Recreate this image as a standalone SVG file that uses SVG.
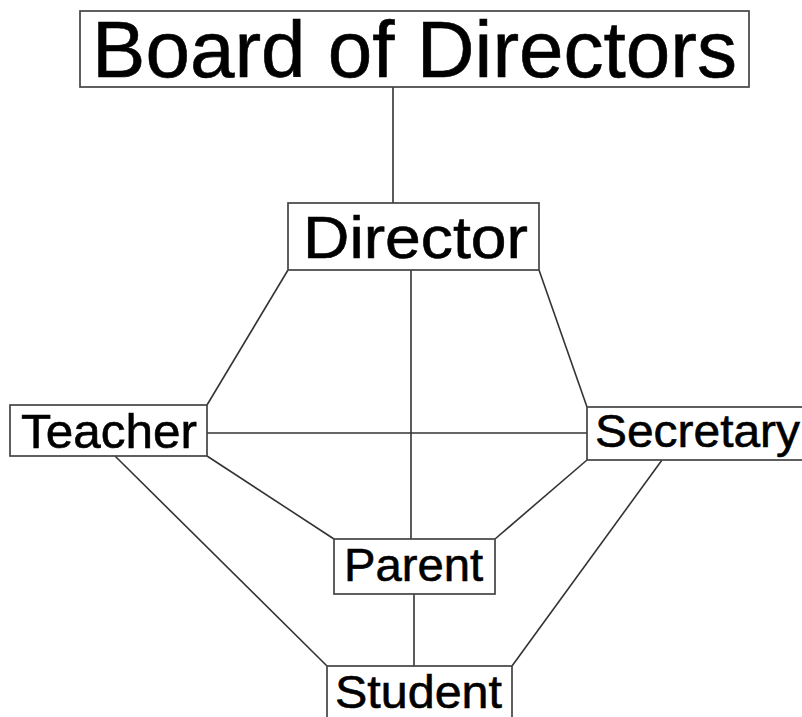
<svg xmlns="http://www.w3.org/2000/svg" width="802" height="717" viewBox="0 0 802 717">
<style>
.box{fill:#fff;stroke:#444;stroke-width:1.7}
.lbl{font-family:"Liberation Sans",Arial,sans-serif;fill:#000;stroke:#000;stroke-width:0.6}
.conn line{stroke:#333;stroke-width:1.6}
</style>
<rect width="802" height="717" fill="#fff"/>
<g class="conn" id="connectors">
<line x1="393" y1="87" x2="393" y2="203"/>
<line x1="288" y1="270" x2="207" y2="405"/>
<line x1="539" y1="270" x2="587" y2="407"/>
<line x1="411" y1="270" x2="411" y2="539"/>
<line x1="207" y1="433" x2="587" y2="433"/>
<line x1="207" y1="456" x2="334" y2="539"/>
<line x1="587" y1="460" x2="495" y2="539"/>
<line x1="115" y1="456" x2="327" y2="666"/>
<line x1="662" y1="460" x2="512" y2="666"/>
<line x1="414" y1="594" x2="414" y2="666"/>
</g>
<g id="board">
<rect class="box" x="80" y="11" width="669" height="76"/>
<text class="lbl" x="92" y="77" font-size="80" textLength="645" lengthAdjust="spacingAndGlyphs">Board of Directors</text>
</g>
<g id="director">
<rect class="box" x="288" y="203" width="251" height="67"/>
<text class="lbl" x="303" y="258" font-size="60" textLength="225" lengthAdjust="spacingAndGlyphs">Director</text>
</g>
<g id="teacher">
<rect class="box" x="10" y="405" width="197" height="51"/>
<text class="lbl" x="21" y="448" font-size="48" textLength="176" lengthAdjust="spacingAndGlyphs">Teacher</text>
</g>
<g id="secretary">
<rect class="box" x="587" y="407" width="220" height="53"/>
<text class="lbl" x="595" y="447" font-size="47" textLength="205" lengthAdjust="spacingAndGlyphs">Secretary</text>
</g>
<g id="parent">
<rect class="box" x="334" y="539" width="161" height="55"/>
<text class="lbl" x="344" y="581" font-size="47" textLength="139" lengthAdjust="spacingAndGlyphs">Parent</text>
</g>
<g id="student">
<rect class="box" x="327" y="666" width="185" height="60"/>
<text class="lbl" x="335" y="708" font-size="47" textLength="167" lengthAdjust="spacingAndGlyphs">Student</text>
</g>
</svg>
